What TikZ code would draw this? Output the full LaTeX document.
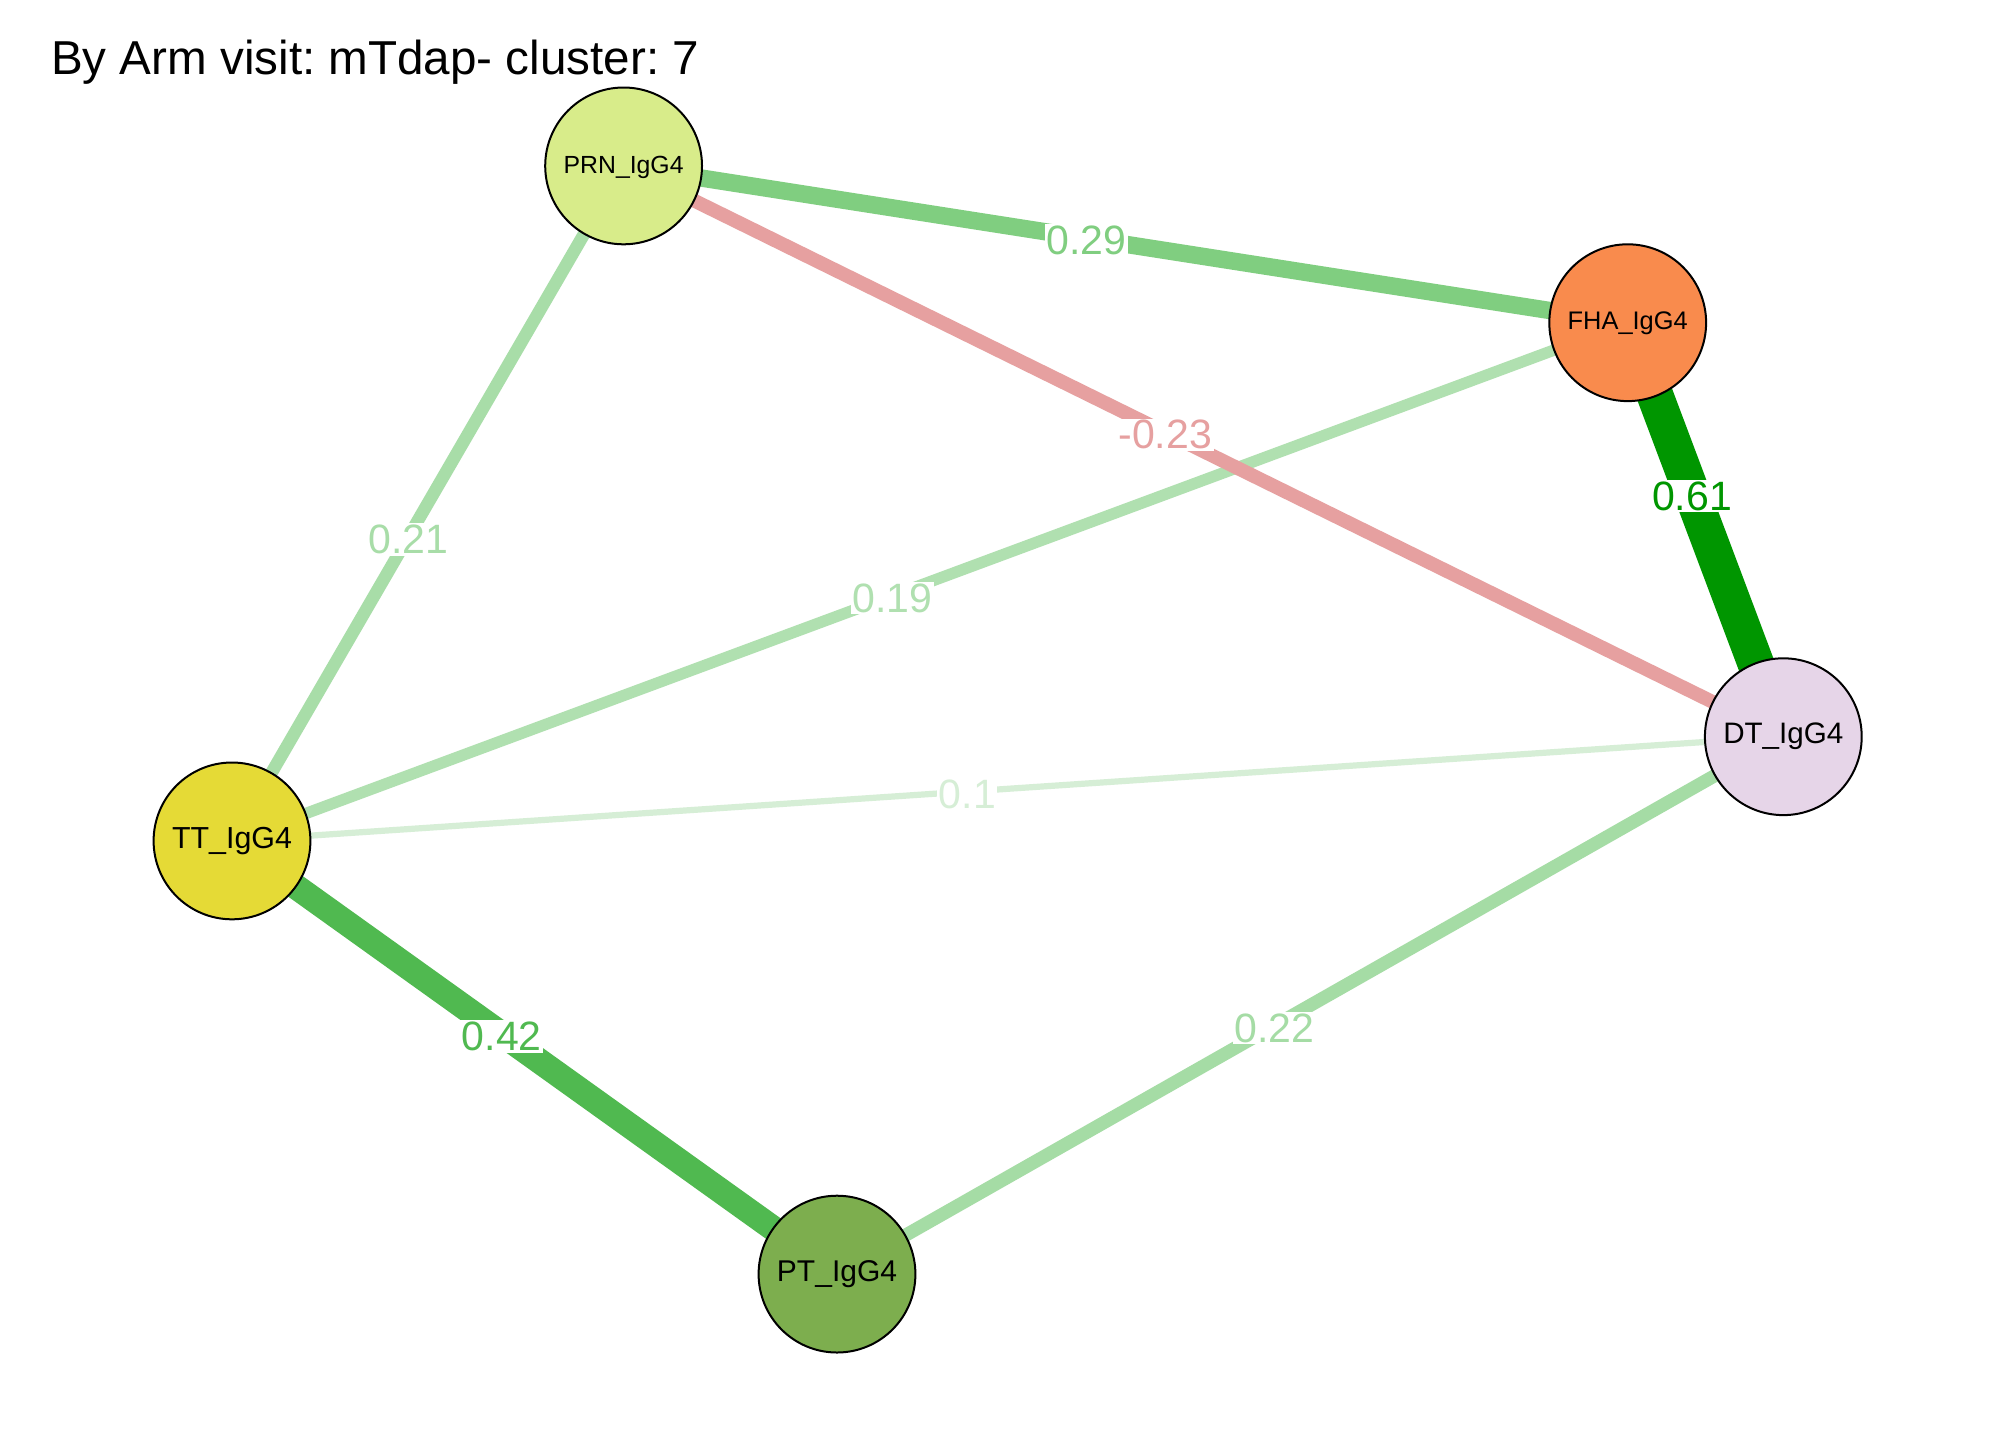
\documentclass[tikz,border=0pt]{standalone}
\usepackage{fontspec}
\setmainfont{Liberation Sans}
\definecolor{cPRN}{RGB}{216,236,138}
\definecolor{cFHA}{RGB}{249,139,77}
\definecolor{cDT}{RGB}{230,213,232}
\definecolor{cTT}{RGB}{229,218,54}
\definecolor{cPT}{RGB}{125,174,78}
\definecolor{e61}{RGB}{0,150,0}
\definecolor{e42}{RGB}{80,185,80}
\definecolor{e29}{RGB}{128,206,128}
\definecolor{e22}{RGB}{165,220,165}
\definecolor{e21}{RGB}{168,221,168}
\definecolor{e19}{RGB}{176,224,176}
\definecolor{e10}{RGB}{214,238,214}
\definecolor{en23}{RGB}{230,160,160}
\pgfdeclarelayer{bg}
\pgfsetlayers{bg,main}
\begin{document}
\frenchspacing
\begin{tikzpicture}[x=0.5pt,y=-0.5pt,
  vnode/.style={circle, draw=black, line width=1pt, inner sep=0pt, minimum size=78.4pt, text height=0.72em, text depth=0pt},
  elab/.style={fill=white, inner sep=0.8pt, yshift=-1.2pt, font=\fontsize{20.5}{20.5}\selectfont},
  wedge/.style={line width=#1}
]
\useasboundingbox (0,0) rectangle (2016,1440);

\node[anchor=base west, font=\fontsize{23.8}{23.8}\selectfont] (title) at (44,74) {By Arm visit: mTdap- cluster: 7};

\node[vnode, fill=cPRN, font=\fontsize{12.4}{12.4}\selectfont] (PRN) at (623.6,165.9) {PRN\_IgG4};
\node[vnode, fill=cFHA, font=\fontsize{12.7}{12.7}\selectfont] (FHA) at (1627.7,322.7) {FHA\_IgG4};
\node[vnode, fill=cDT, font=\fontsize{14.8}{14.8}\selectfont] (DT) at (1783.3,736.7) {DT\_IgG4};
\node[vnode, fill=cTT, font=\fontsize{15.2}{15.2}\selectfont] (TT) at (232,840.9) {TT\_IgG4};
\node[vnode, fill=cPT, font=\fontsize{15}{15}\selectfont] (PT) at (837,1274.1) {PT\_IgG4};

\begin{pgfonlayer}{bg}
\fill[white] (0,0) rectangle (2016,1440);
\draw[wedge=3.1pt, e10] (TT.center) -- coordinate[pos=0.474] (l10) (DT.center);
\draw[wedge=5.7pt, e19] (TT.center) -- coordinate[pos=0.473] (l19) (FHA.center);
\draw[wedge=6.3pt, e21] (PRN.center) -- coordinate[pos=0.55] (l21) (TT.center);
\draw[wedge=6.6pt, e22] (PT.center) -- coordinate[pos=0.462] (l22) (DT.center);
\draw[wedge=6.9pt, en23] (PRN.center) -- coordinate[pos=0.467] (l23) (DT.center);
\draw[wedge=8.7pt, e29] (PRN.center) -- coordinate[pos=0.461] (l29) (FHA.center);
\draw[wedge=12.6pt, e42] (TT.center) -- coordinate[pos=0.446] (l42) (PT.center);
\draw[wedge=18.3pt, e61] (FHA.center) -- coordinate[pos=0.413] (l61) (DT.center);
\end{pgfonlayer}

\node[elab, text=e10] (t10) at (l10) {0.1};
\node[elab, text=e19] (t19) at (l19) {0.19};
\node[elab, text=e21] (t21) at (l21) {0.21};
\node[elab, text=e22] (t22) at (l22) {0.22};
\node[elab, text=en23] (t23) at (l23) {-0.23};
\node[elab, text=e29] (t29) at (l29) {0.29};
\node[elab, text=e42] (t42) at (l42) {0.42};
\node[elab, text=e61] (t61) at (l61) {0.61};
\end{tikzpicture}
\end{document}
